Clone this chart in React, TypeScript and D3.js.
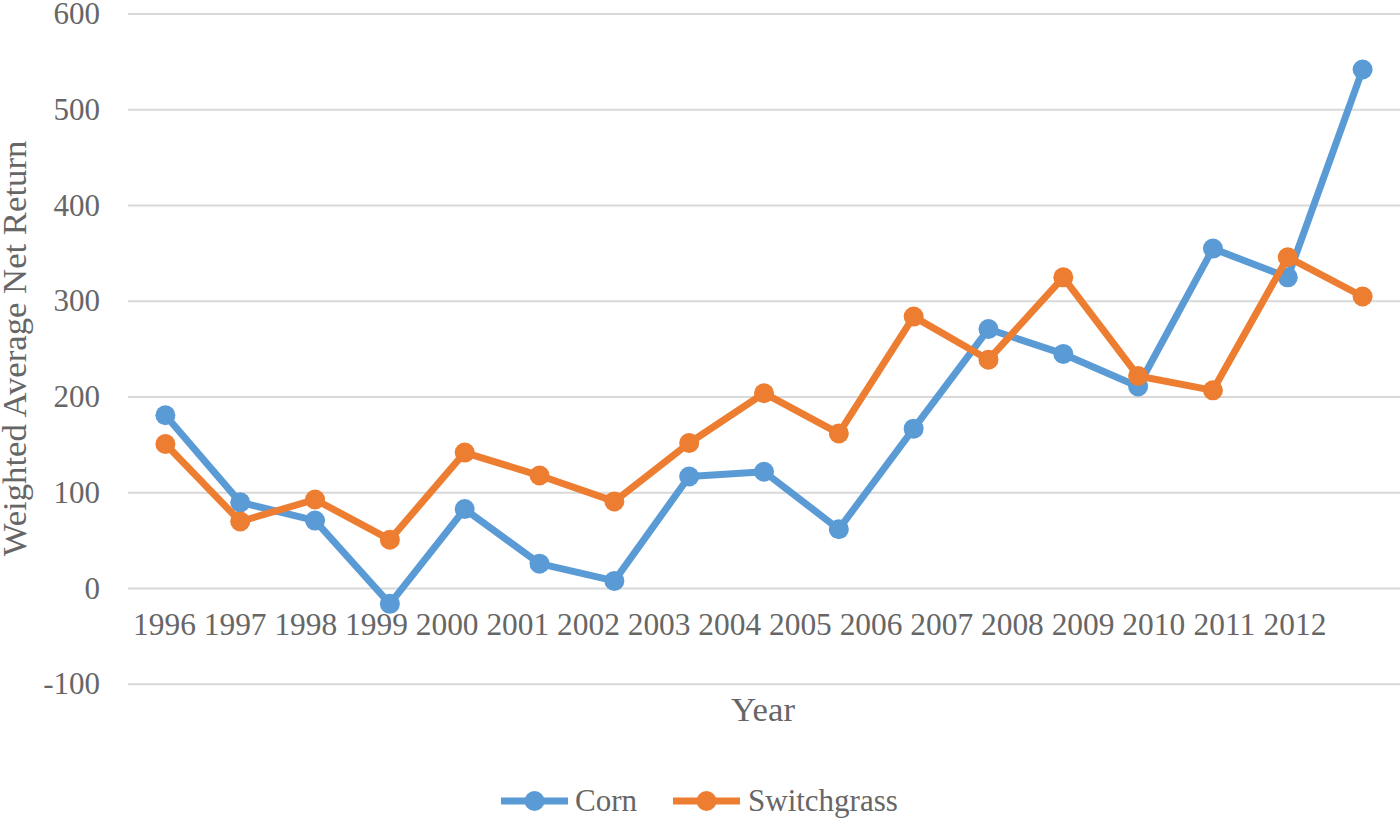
import React, { useEffect, useRef } from 'react';
import * as d3 from 'd3';

const years = ['1996', '1997', '1998', '1999', '2000', '2001', '2002', '2003', '2004',
  '2005', '2006', '2007', '2008', '2009', '2010', '2011', '2012'];

const cornValues = [181, 90, 71, -16, 83, 26, 8, 117, 122, 62, 167, 271, 245, 211, 355, 325, 542];
const switchgrassValues = [151, 70, 93, 51, 142, 118, 91, 152, 204, 162, 284, 239, 325, 222, 207, 346, 305];

const yTicks = [-100, 0, 100, 200, 300, 400, 500, 600];

const seriesNames = ['Corn', 'Switchgrass'];
const seriesColors = ['#5B9BD5', '#ED7D31'];

const FONT = '"Liberation Serif", "Times New Roman", serif';
const TEXT_COLOR = '#666666';

const App: React.FC = () => {
  const svgRef = useRef<SVGSVGElement>(null);

  useEffect(() => {
    document.body.style.margin = '0';
    if (!svgRef.current) return;

    const width = 1400;
    const height = 820;
    const plot = { left: 128, right: 1400, top: 14, bottom: 684.3 };

    const svg = d3.select(svgRef.current);
    svg.selectAll('*').remove();
    svg.attr('width', width).attr('height', height).attr('viewBox', `0 0 ${width} ${height}`);

    // scales
    const y = d3.scaleLinear().domain([-100, 600]).range([plot.bottom, plot.top]);
    const xBand = d3.scaleBand<string>().domain(years).range([plot.left, plot.right]).padding(0);
    const xc = (yr: string) => (xBand(yr) || 0) + xBand.bandwidth() / 2;
    // category labels are packed tighter than the points in the original
    const xLabel = d3.scalePoint<string>().domain(years).range([164.5, 1295]);

    // gridlines
    svg.append('g')
      .selectAll('line')
      .data(yTicks)
      .enter()
      .append('line')
      .attr('x1', plot.left)
      .attr('x2', plot.right)
      .attr('y1', d => y(d))
      .attr('y2', d => y(d))
      .attr('stroke', '#d9d9d9')
      .attr('stroke-width', 2);

    // y tick labels
    svg.append('g')
      .selectAll('text')
      .data(yTicks)
      .enter()
      .append('text')
      .attr('x', 100)
      .attr('y', d => y(d) + 10)
      .attr('text-anchor', 'end')
      .attr('font-family', FONT)
      .attr('font-size', 31)
      .attr('fill', TEXT_COLOR)
      .text(d => String(d));

    // x category labels
    svg.append('g')
      .selectAll('text')
      .data(years)
      .enter()
      .append('text')
      .attr('x', d => xLabel(d) || 0)
      .attr('y', 635)
      .attr('text-anchor', 'middle')
      .attr('font-family', FONT)
      .attr('font-size', 31.4)
      .attr('fill', TEXT_COLOR)
      .text(d => d);

    // axis titles
    svg.append('text')
      .attr('x', 763)
      .attr('y', 721)
      .attr('text-anchor', 'middle')
      .attr('font-family', FONT)
      .attr('font-size', 34.7)
      .attr('fill', TEXT_COLOR)
      .text('Year');

    svg.append('text')
      .attr('transform', 'translate(26,348.5) rotate(-90)')
      .attr('text-anchor', 'middle')
      .attr('font-family', FONT)
      .attr('font-size', 34.7)
      .attr('fill', TEXT_COLOR)
      .text('Weighted Average Net Return');

    // series
    const allSeries = [cornValues, switchgrassValues];
    const line = d3.line<number>()
      .x((_, i) => xc(years[i]))
      .y(d => y(d));

    allSeries.forEach((values, s) => {
      const g = svg.append('g');
      g.append('path')
        .datum(values)
        .attr('d', line)
        .attr('fill', 'none')
        .attr('stroke', seriesColors[s])
        .attr('stroke-width', 7)
        .attr('stroke-linejoin', 'round');
      g.selectAll('circle')
        .data(values)
        .enter()
        .append('circle')
        .attr('cx', (_, i) => xc(years[i]))
        .attr('cy', d => y(d))
        .attr('r', 10)
        .attr('fill', seriesColors[s]);
    });

    // legend
    const legendY = 801;
    const legendItems = [
      { x0: 501, text: 575 },
      { x0: 673, text: 748 },
    ];
    legendItems.forEach((it, s) => {
      const g = svg.append('g');
      g.append('line')
        .attr('x1', it.x0)
        .attr('x2', it.x0 + 67)
        .attr('y1', legendY)
        .attr('y2', legendY)
        .attr('stroke', seriesColors[s])
        .attr('stroke-width', 7);
      g.append('circle')
        .attr('cx', it.x0 + 33.5)
        .attr('cy', legendY)
        .attr('r', 10)
        .attr('fill', seriesColors[s]);
      g.append('text')
        .attr('x', it.text)
        .attr('y', 811)
        .attr('font-family', FONT)
        .attr('font-size', 31)
        .attr('fill', TEXT_COLOR)
        .text(seriesNames[s]);
    });
  }, []);

  return (
    <div style={{ width: 1400, height: 820, background: '#fff' }}>
      <svg ref={svgRef} style={{ display: 'block' }} />
    </div>
  );
};

export default App;
